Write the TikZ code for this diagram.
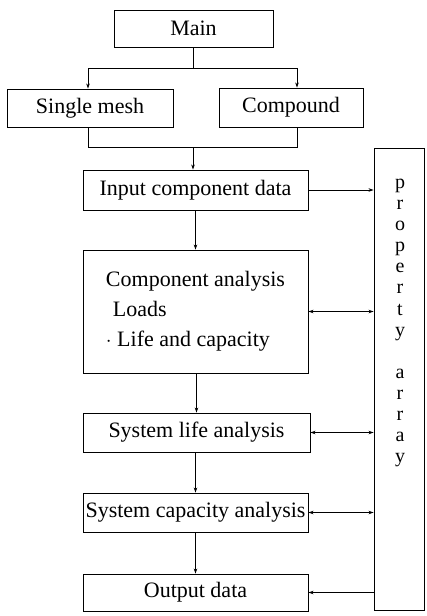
\documentclass[tikz,border=0pt]{standalone}
\usepackage{fontspec}
\setmainfont{Liberation Serif}
\usetikzlibrary{arrows.meta}
\begin{document}
\begin{tikzpicture}[x=1pt,y=-1pt,
  box/.style={draw, line width=0.9pt, inner sep=0pt, font=\fontsize{22}{30}\selectfont},
  conn/.style={line width=0.7pt},
  arr/.style={conn, -{Stealth[length=5pt,width=3.5pt]}},
  darr/.style={conn, {Stealth[length=5pt,width=3.5pt]}-{Stealth[length=5pt,width=3.5pt]}}]
\useasboundingbox (0,0) rectangle (426,616);
\node[box, minimum width=159pt, minimum height=37pt] (main) at (193.5,28.5) {Main};
\node[box, minimum width=166pt, minimum height=38pt] (single) at (90,108) {Single mesh};
\node[box, minimum width=144pt, minimum height=39pt] (compound) at (291,107.5) {Compound};
\node[box, minimum width=225pt, minimum height=40pt] (input) at (195.5,190) {Input component data};
\node[box, minimum width=225pt, minimum height=123pt, align=left] (comp) at (195.5,311.5)
  {Component analysis\\\hspace{7pt}Loads\\$\cdot$ Life and capacity};
\node[box, minimum width=227pt, minimum height=39pt] (syslife) at (196.5,432.5) {System life analysis};
\node[box, minimum width=225pt, minimum height=39pt] (syscap) at (195.5,512.5) {System capacity analysis};
\node[box, minimum width=225pt, minimum height=37pt] (output) at (195.5,592.5) {Output data};
\node[box, minimum width=50pt, minimum height=462pt] (prop) at (399,379) {};
\node[inner sep=0pt, align=center, font=\fontsize{20}{21.08}\selectfont] (proptext) at (400,323)
  {p\\r\\o\\p\\e\\r\\t\\y\\[21.08pt]a\\r\\r\\a\\y};
% top branching
\coordinate (j1) at (193.5,68);
\coordinate (j1l) at (88,68);
\coordinate (j1r) at (297,68);
\draw[conn] (main.south) -- (j1);
\draw[conn] (j1l) -- (j1r);
\draw[arr] (j1l) -- (j1l |- single.north);
\draw[arr] (j1r) -- (j1r |- compound.north);
% merge
\coordinate (j2l) at (88,147);
\coordinate (j2r) at (297,147);
\coordinate (j2) at (193,147);
\draw[conn] (j2l |- single.south) -- (j2l) -- (j2r) -- (j2r |- compound.south);
\draw[arr] (j2) -- (j2 |- input.north);
% main chain
\draw[arr] (input.south) -- (comp.north);
\draw[arr] (comp.south -| syslife.north) -- (syslife.north);
\draw[arr] (syslife.south -| syscap.north) -- (syscap.north);
\draw[arr] (syscap.south) -- (output.north);
% property array links
\draw[arr] (input.east) -- (input.east -| prop.west);
\draw[darr] (comp.east) -- (comp.east -| prop.west);
\draw[darr] (syslife.east) -- (syslife.east -| prop.west);
\draw[darr] (syscap.east) -- (syscap.east -| prop.west);
\draw[arr] (output.east -| prop.west) -- (output.east);
\end{tikzpicture}
\end{document}
